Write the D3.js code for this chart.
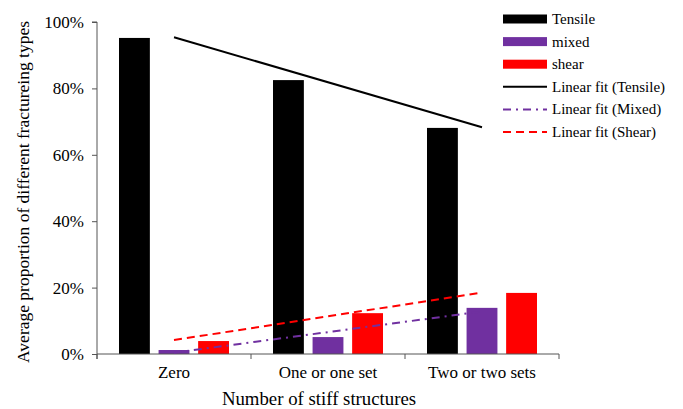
<!DOCTYPE html>
<html>
<head>
<meta charset="utf-8">
<script src="https://cdn.jsdelivr.net/npm/d3@7"></script>
<style>
  html, body { margin: 0; padding: 0; background: #fff; overflow: hidden; }
  svg { display: block; }
  svg text { font-family: "Liberation Serif", "Times New Roman", "DejaVu Serif", serif; fill: #000; }
</style>
</head>
<body>
<div id="chart"></div>
<script>
// Data
const categories = ["Zero", "One or one set", "Two or two sets"];
const tensile = [95.2, 82.5, 68.1];
const mixed = [1.2, 5.1, 13.9];
const shear = [3.9, 12.3, 18.4];
// linear fit values at first and last category
const tensileFit = [95.4, 68.3];
const mixedFit = [0.4, 12.8];
const shearFit = [4.2, 18.5];
const yTicks = [0, 20, 40, 60, 80, 100];

const fontStack = "'Liberation Serif', 'Times New Roman', 'DejaVu Serif', serif";

const width = 683;
const height = 409;
const margin = {top: 22, right: 124, bottom: 55, left: 97};
const innerWidth = width - margin.left - margin.right;
const innerHeight = height - margin.top - margin.bottom;

const svg = d3.select("#chart")
  .append("svg")
    .attr("width", width)
    .attr("height", height)
    .attr("viewBox", `0 0 ${width} ${height}`)
    .attr("font-family", fontStack);

const inner = svg.append("g")
  .attr("transform", `translate(${margin.left}, ${margin.top})`);

// Scales
const xScale = d3.scaleBand()
  .domain(categories)
  .range([0, innerWidth]);

const yScale = d3.scaleLinear()
  .domain([0, 100])
  .range([innerHeight, 0]);

const series = [
  {name: "Tensile", values: tensile, color: "#000000"},
  {name: "mixed", values: mixed, color: "#7030A0"},
  {name: "shear", values: shear, color: "#FF0000"}
];

const subScale = d3.scaleBand()
  .domain(series.map(s => s.name))
  .range([xScale.bandwidth() / 2 - 55, xScale.bandwidth() / 2 + 55])
  .paddingInner(0.22);

// Bars
series.forEach(s => {
  inner.append("g")
    .selectAll("rect")
    .data(s.values)
    .join("rect")
      .attr("x", (d, i) => xScale(categories[i]) + subScale(s.name))
      .attr("y", d => yScale(d))
      .attr("width", subScale.bandwidth())
      .attr("height", d => innerHeight - yScale(d))
      .attr("fill", s.color);
});

// Axes
const axisColor = "#555";
const leftAxis = d3.axisLeft(yScale)
  .tickValues(yTicks)
  .tickFormat(d => d + "%")
  .tickSize(5)
  .tickPadding(8);
const gy = inner.append("g").call(leftAxis)
  .attr("font-family", fontStack)
  .attr("font-size", 17);
gy.select(".domain").attr("stroke", axisColor).attr("d", `M0,${innerHeight + 5}V0H-5`);
gy.selectAll(".tick line").attr("stroke", axisColor);

const gx = inner.append("g")
  .attr("transform", `translate(0, ${innerHeight})`);
gx.append("line")
  .attr("x1", 0).attr("x2", innerWidth)
  .attr("stroke", axisColor);
gx.selectAll(".sep")
  .data(categories.concat(["end"]))
  .join("line")
    .attr("class", "sep")
    .attr("x1", (d, i) => i * xScale.step())
    .attr("x2", (d, i) => i * xScale.step())
    .attr("y1", 0).attr("y2", 5)
    .attr("stroke", axisColor);
gx.selectAll(".cat")
  .data(categories)
  .join("text")
    .attr("class", "cat")
    .attr("x", d => xScale(d) + xScale.bandwidth() / 2)
    .attr("y", 24)
    .attr("text-anchor", "middle")
    .attr("font-size", 17)
    .text(d => d);

// Linear fit lines
const x0 = xScale(categories[0]) + xScale.bandwidth() / 2;
const x1 = xScale(categories[2]) + xScale.bandwidth() / 2;
const fits = [
  {name: "Linear fit (Tensile)", values: tensileFit, color: "#000", dash: null},
  {name: "Linear fit (Mixed)", values: mixedFit, color: "#7030A0", dash: "8,5,2,5"},
  {name: "Linear fit (Shear)", values: shearFit, color: "#FF0000", dash: "8,5"}
];
fits.forEach(f => {
  inner.append("line")
    .attr("x1", x0).attr("y1", yScale(f.values[0]))
    .attr("x2", x1).attr("y2", yScale(f.values[1]))
    .attr("stroke", f.color)
    .attr("stroke-width", 2)
    .attr("stroke-dasharray", f.dash);
});

// Axis titles
svg.append("text")
  .attr("transform", `translate(29, 192) rotate(-90)`)
  .attr("text-anchor", "middle")
  .attr("font-size", 17.5)
  .text("Average proportion of different fractureing types");

svg.append("text")
  .attr("x", 319)
  .attr("y", 405)
  .attr("text-anchor", "middle")
  .attr("font-size", 18.8)
  .text("Number of stiff structures");

// Legend
const legend = svg.append("g").attr("transform", "translate(503, 19)");
const step = 22.6;
series.forEach((s, i) => {
  legend.append("rect")
    .attr("x", 0).attr("y", i * step - 4.5)
    .attr("width", 44).attr("height", 9)
    .attr("fill", s.color);
  legend.append("text")
    .attr("x", 49).attr("y", i * step + 5)
    .attr("font-size", 15)
    .text(s.name);
});
fits.forEach((f, j) => {
  const i = j + 3;
  legend.append("line")
    .attr("x1", 0).attr("x2", 44)
    .attr("y1", i * step).attr("y2", i * step)
    .attr("stroke", f.color)
    .attr("stroke-width", 2)
    .attr("stroke-dasharray", f.dash);
  legend.append("text")
    .attr("x", 49).attr("y", i * step + 5)
    .attr("font-size", 15)
    .text(f.name);
});
</script>
</body>
</html>
